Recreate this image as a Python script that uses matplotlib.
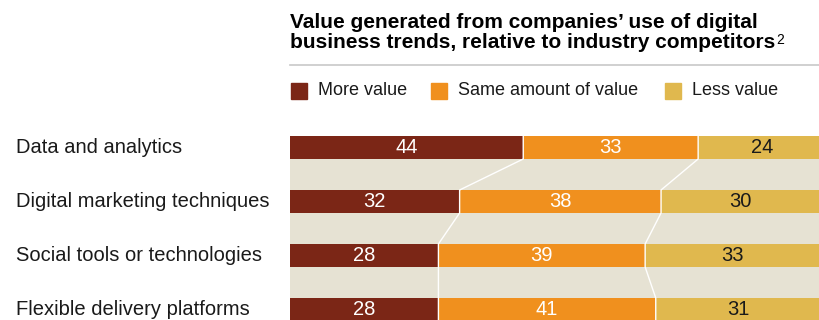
import numpy as np
import matplotlib.pyplot as plt
from matplotlib.patches import Rectangle

categories = ['Data and analytics', 'Digital marketing techniques',
              'Social tools or technologies', 'Flexible delivery platforms']
more_value = [44, 32, 28, 28]
same_value = [33, 38, 39, 41]
less_value = [24, 30, 33, 31]
series_names = ['More value', 'Same amount of value', 'Less value']

colors = ['#7b2616', '#f0901e', '#e0b84e']
text_colors = ['white', 'white', '#1a1a1a']
beige = '#e6e2d3'


def main():
    plt.rcParams['font.family'] = ['Liberation Sans', 'DejaVu Sans']
    W, H = 819, 320
    fig = plt.figure(figsize=(W / 100, H / 100), dpi=100)

    def fx(px):
        return px / W

    def fy(py):
        return 1 - py / H

    # bar area
    pitch = 54
    h = 23 / pitch
    top_px, first_center = 136, 147.5
    ax = fig.add_axes([fx(290), 0, 1 - fx(290), fy(top_px)])
    ax.set_facecolor(beige)
    for s in ax.spines.values():
        s.set_visible(False)
    ax.set_xticks([])
    ax.set_yticks([])

    data = np.array([more_value, same_value, less_value], dtype=float)
    y = np.arange(len(categories))
    left = np.zeros(len(categories))
    for k in range(3):
        ax.barh(y, data[k], left=left, height=h, color=colors[k], zorder=2)
        for i in range(len(y)):
            ax.text(left[i] + data[k][i] / 2, y[i], str(int(data[k][i])),
                    ha='center', va='center', fontsize=14.5,
                    color=text_colors[k], zorder=4)
        left = left + data[k]

    # white boundary lines linking the segments across rows
    cum = np.cumsum(data, axis=0)
    for k in range(2):
        xs, ys = [], []
        for i in range(len(y)):
            xs += [cum[k][i], cum[k][i]]
            ys += [y[i] - h / 2, y[i] + h / 2]
        ax.plot(xs, ys, color='white', lw=1, zorder=3)

    ax.set_xlim(0, 99.8)
    bottom_data = (H - first_center) / pitch
    ax.set_ylim(bottom_data, -(first_center - top_px) / pitch)

    # category labels
    for i, c in enumerate(categories):
        fig.text(fx(16), fy(first_center + i * pitch), c, ha='left',
                 va='center', fontsize=14.5, color='#1a1a1a')

    # title
    fig.text(fx(290), fy(28), 'Value generated from companies\u2019 use of digital',
             fontsize=15, fontweight='bold', va='baseline', color='black')
    t2 = fig.text(fx(290), fy(48),
                  'business trends, relative to industry competitors',
                  fontsize=15, fontweight='bold', va='baseline', color='black')
    plt.annotate('2', xy=(1, 1), xycoords=t2, xytext=(0.5, 0),
                 textcoords='offset points', fontsize=10, va='top', ha='left')

    # separator line
    fig.add_artist(plt.Line2D([fx(290), 1], [fy(65), fy(65)],
                              color='#c8c8c8', lw=1.2))

    # legend
    sq_x = [291, 431, 665]
    txt_x = [318, 458, 692]
    for k in range(3):
        fig.add_artist(Rectangle((fx(sq_x[k]), fy(98.5)), 15.5 / W, 15.5 / H,
                                 color=colors[k], transform=fig.transFigure))
        fig.text(fx(txt_x[k]), fy(90.5), series_names[k], fontsize=13,
                 va='center', ha='left', color='#1a1a1a')

    fig.savefig('out.png', dpi=100)


if __name__ == '__main__':
    main()
